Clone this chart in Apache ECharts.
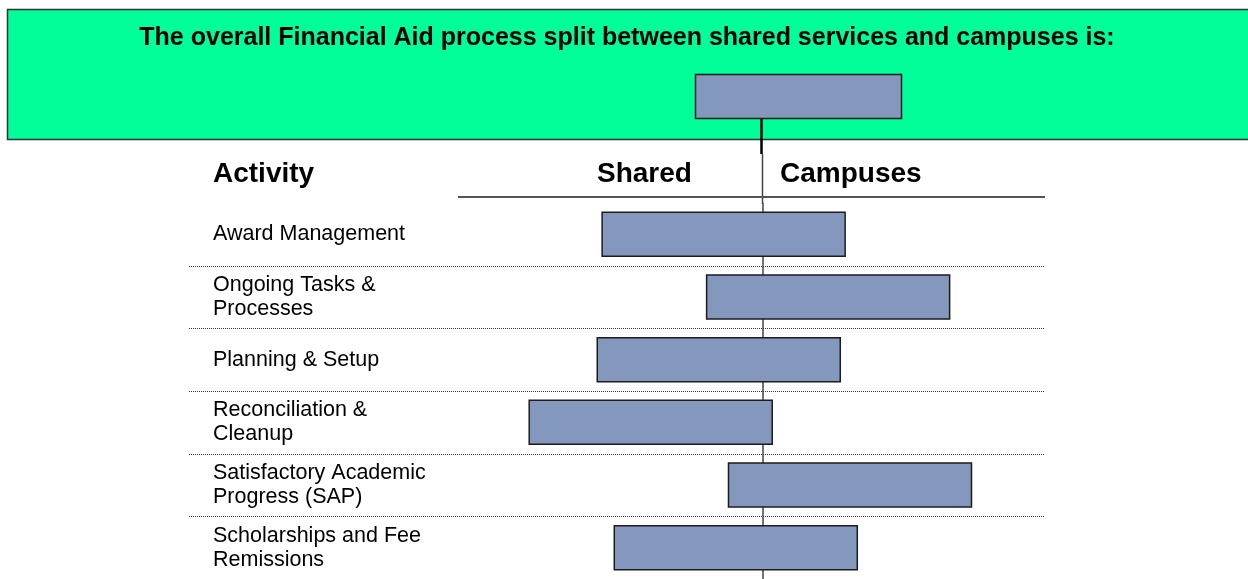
<!DOCTYPE html>
<html>
<head>
<meta charset="utf-8">
<script src="https://cdn.jsdelivr.net/npm/echarts@6/dist/echarts.min.js"></script>
<style>
	html, body { margin: 0; padding: 0; background: #fff; }
	#chart { width: 1248px; height: 579px; }
</style>
</head>
<body>
<div id="chart"></div>
<script>
// activities, top to bottom
const activities = [
	'Award Management',
	'Ongoing Tasks &\nProcesses',
	'Planning & Setup',
	'Reconciliation &\nCleanup',
	'Satisfactory Academic\nProgress (SAP)',
	'Scholarships and Fee\nRemissions',
];
// share of the work (%) done by shared services / by campuses
const sharedPct = [66, 23, 68, 96, 14, 61];
const campusPct = [34, 77, 32, 4, 86, 39];

const titleText = 'The overall Financial Aid process split between shared services and campuses is:';
const headers = ['Activity', 'Shared', 'Campuses'];

const font = '"Liberation Sans", Arial, sans-serif';
const barColor = '#8497bd';
const edgeColor = '#1c1c1c';

const chartDom = document.getElementById('chart');
const myChart = echarts.init(chartDom);

let splitData = activities.map((name, i) => [i, -sharedPct[i], campusPct[i]]);

function renderRow(params, api) {
	let cat = api.value(0);
	let left = api.coord([api.value(1), cat]);
	let right = api.coord([api.value(2), cat]);
	let zero = api.coord([0, cat]);
	let band = api.size([0, 1])[1];
	let h = 44;
	let cs = params.coordSys;
	let yTop = left[1] - band / 2;
	let children = [];
	// centre line piece for this row (bar covers it)
	children.push({
		type: 'line',
		shape: { x1: zero[0] + 0.5, y1: yTop, x2: zero[0] + 0.5, y2: yTop + band },
		style: { stroke: '#444', lineWidth: 1.5 },
	});
	if (params.dataIndex > 0) {
		let yLine = Math.round(yTop) + 0.5;
		children.push({
			type: 'line',
			shape: { x1: cs.x, y1: yLine, x2: cs.x + cs.width, y2: yLine },
			style: { stroke: '#333', lineWidth: 1, lineDash: [1, 1] },
		});
	}
	children.push({
		type: 'rect',
		shape: { x: left[0], y: left[1] - h / 2, width: right[0] - left[0], height: h },
		style: { fill: barColor, stroke: edgeColor, lineWidth: 1.5 },
	});
	return { type: 'group', children: children };
}

var option = {
	backgroundColor: '#fff',
	animation: false,
	grid: { left: 189, top: 203, width: 855.4, height: 377 },
	xAxis: { type: 'value', min: -236, max: 116, show: false },
	yAxis: {
		type: 'category',
		inverse: true,
		data: activities,
		axisLine: { show: false },
		axisTick: { show: false },
		splitLine: { show: false },
		axisLabel: {
			align: 'left',
			margin: -24,
			color: '#000',
			fontFamily: font,
			fontSize: 21.5,
			lineHeight: 24,
		},
	},
	graphic: [
		{
			type: 'rect',
			shape: { x: 7.5, y: 9.5, width: 1260, height: 130 },
			style: { fill: '#00ff99', stroke: '#333', lineWidth: 1.5 },
			z: 0,
		},
		{
			type: 'text',
			x: 627,
			y: 38,
			style: {
				text: titleText,
				fill: '#000',
				font: 'bold 25px ' + font,
				textAlign: 'center',
				textVerticalAlign: 'middle',
			},
			z: 1,
		},
		{
			type: 'rect',
			shape: { x: 695.5, y: 74.5, width: 206, height: 44 },
			style: { fill: barColor, stroke: edgeColor, lineWidth: 1.5 },
			z: 1,
		},
		{
			type: 'line',
			shape: { x1: 761.5, y1: 119, x2: 761.5, y2: 154 },
			style: { stroke: '#000', lineWidth: 2.5 },
			z: 1,
		},
		{
			type: 'line',
			shape: { x1: 762.5, y1: 154, x2: 762.5, y2: 204 },
			style: { stroke: '#444', lineWidth: 1.5 },
			z: 1,
		},
		{
			type: 'line',
			shape: { x1: 458, y1: 197, x2: 1045, y2: 197 },
			style: { stroke: '#555', lineWidth: 2 },
			z: 1,
		},
		{
			type: 'text',
			x: 213,
			y: 174,
			style: { text: headers[0], fill: '#000', font: 'bold 28px ' + font, textVerticalAlign: 'middle' },
		},
		{
			type: 'text',
			x: 597,
			y: 174,
			style: { text: headers[1], fill: '#000', font: 'bold 28px ' + font, textVerticalAlign: 'middle' },
		},
		{
			type: 'text',
			x: 780,
			y: 174,
			style: { text: headers[2], fill: '#000', font: 'bold 28px ' + font, textVerticalAlign: 'middle' },
		},
	],
	series: [
		{
			type: 'custom',
			z: 3,
			renderItem: renderRow,
			encode: { x: [1, 2], y: 0 },
			data: splitData,
		},
	],
};
option && myChart.setOption(option);
</script>
</body>
</html>
